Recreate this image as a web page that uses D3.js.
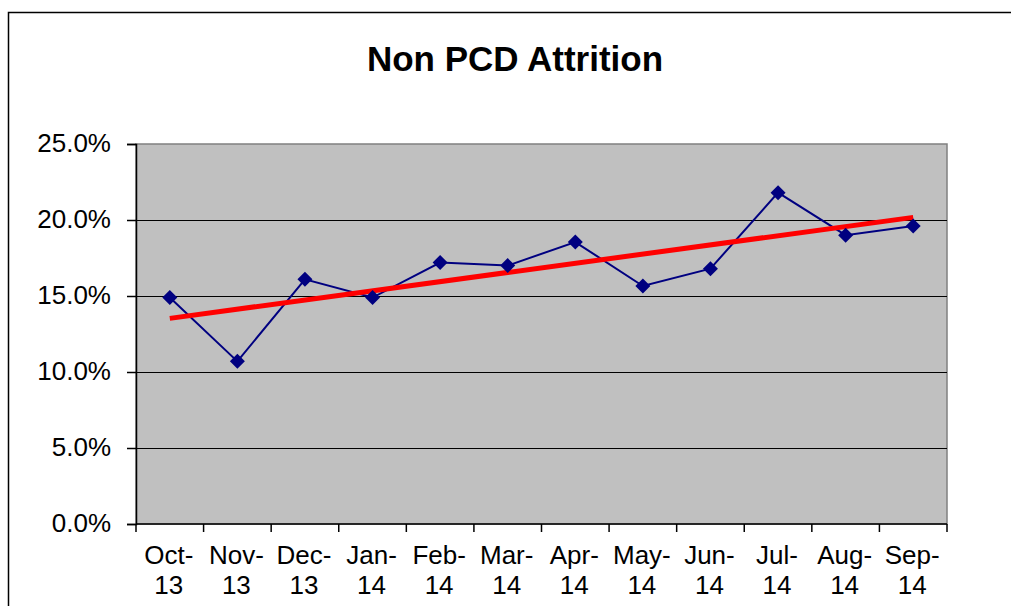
<!DOCTYPE html>
<html>
<head>
<meta charset="utf-8">
<script src="https://cdn.jsdelivr.net/npm/d3@7"></script>
<style>
  html, body { margin: 0; padding: 0; background: #fff; }
  svg { display: block; font-family: "Liberation Sans", Arial, sans-serif; }
</style>
</head>
<body>
<svg id="chart" width="1011" height="606"></svg>
<script>
const title = "Non PCD Attrition";
const months = ["Oct-", "Nov-", "Dec-", "Jan-", "Feb-", "Mar-", "Apr-", "May-", "Jun-", "Jul-", "Aug-", "Sep-"];
const years = ["13", "13", "13", "14", "14", "14", "14", "14", "14", "14", "14", "14"];
const attrition = [14.9, 10.7, 16.1, 14.9, 17.2, 17.0, 18.55, 15.66, 16.8, 21.8, 19.0, 19.6];
const yTicks = [0, 5, 10, 15, 20, 25];

const categories = months.map((m, i) => m + years[i]);
const svg = d3.select("#chart");

const plot = { left: 136, right: 947, top: 144, bottom: 524 };

const x = d3.scaleBand().domain(categories).range([plot.left, plot.right]).padding(0);
const y = d3.scaleLinear().domain([0, 25]).range([plot.bottom, plot.top]);

// outer frame
svg.append("rect")
  .attr("x", 8.5).attr("y", 12.5)
  .attr("width", 1020).attr("height", 620)
  .attr("fill", "#fff").attr("stroke", "#000").attr("stroke-width", 1.5);

// title
svg.append("text")
  .attr("x", 515).attr("y", 71)
  .attr("text-anchor", "middle")
  .attr("font-size", 35).attr("font-weight", "bold")
  .attr("fill", "#000")
  .text(title);

// plot background
svg.append("rect")
  .attr("x", plot.left).attr("y", plot.top)
  .attr("width", plot.right - plot.left).attr("height", plot.bottom - plot.top)
  .attr("fill", "#c0c0c0")
  .attr("stroke", "#808080").attr("stroke-width", 1.5);

// gridlines
svg.append("g").selectAll("line")
  .data(yTicks.filter(t => t > 0 && t < 25))
  .join("line")
  .attr("x1", plot.left).attr("x2", plot.right)
  .attr("y1", d => Math.round(y(d)) + 0.5).attr("y2", d => Math.round(y(d)) + 0.5)
  .attr("stroke", "#000").attr("stroke-width", 1);

// y axis
const yAxis = d3.axisLeft(y).tickValues(yTicks).tickSize(9).tickPadding(16)
  .tickFormat(d => d3.format(".1f")(d) + "%");
const gy = svg.append("g").attr("transform", `translate(${plot.left},0)`).call(yAxis);
gy.select(".domain").attr("stroke", "#000").attr("stroke-width", 1.5);
gy.selectAll(".tick line").attr("stroke", "#000").attr("stroke-width", 1.5);
gy.selectAll(".tick text")
  .attr("font-size", 26).attr("fill", "#000")
  .attr("font-family", "Liberation Sans, Arial, sans-serif")
  .attr("dy", "0.3em");

// x axis line and ticks at band boundaries
const boundaries = categories.map(c => x(c)).concat([plot.right]);
svg.append("line")
  .attr("x1", plot.left).attr("x2", plot.right)
  .attr("y1", plot.bottom).attr("y2", plot.bottom)
  .attr("stroke", "#000").attr("stroke-width", 1.5);
svg.append("g").selectAll("line")
  .data(boundaries)
  .join("line")
  .attr("x1", d => d).attr("x2", d => d)
  .attr("y1", plot.bottom).attr("y2", plot.bottom + 8)
  .attr("stroke", "#000").attr("stroke-width", 1.5);

// x labels (two lines)
const xl = svg.append("g").selectAll("text")
  .data(categories)
  .join("text")
  .attr("text-anchor", "middle")
  .attr("font-size", 26).attr("fill", "#000");
xl.append("tspan")
  .attr("x", d => x(d) + x.bandwidth() / 2 - 1).attr("y", 564)
  .text((d, i) => months[i]);
xl.append("tspan")
  .attr("x", d => x(d) + x.bandwidth() / 2 - 1).attr("y", 594)
  .text((d, i) => years[i]);

// data line
const cx = i => x(categories[i]) + x.bandwidth() / 2;
const line = d3.line().x((d, i) => cx(i)).y(d => y(d));
svg.append("path")
  .datum(attrition)
  .attr("d", line)
  .attr("fill", "none")
  .attr("stroke", "#000080").attr("stroke-width", 2);

// linear trendline (least squares of the series)
const n = attrition.length;
const xs = d3.range(n);
const mx = d3.mean(xs), my = d3.mean(attrition);
const slope = d3.sum(xs, i => (i - mx) * (attrition[i] - my)) / d3.sum(xs, i => (i - mx) ** 2);
const intercept = my - slope * mx;
const trend = [intercept, intercept + slope * (n - 1)];
svg.append("line")
  .attr("x1", cx(0)).attr("y1", y(trend[0]))
  .attr("x2", cx(n - 1)).attr("y2", y(trend[1]))
  .attr("stroke", "#ff0000").attr("stroke-width", 5);

// markers
svg.append("g").selectAll("path")
  .data(attrition)
  .join("path")
  .attr("transform", (d, i) => `translate(${cx(i)},${y(d)})`)
  .attr("d", "M0,-7.5L7.5,0L0,7.5L-7.5,0Z")
  .attr("fill", "#000080");
</script>
</body>
</html>
